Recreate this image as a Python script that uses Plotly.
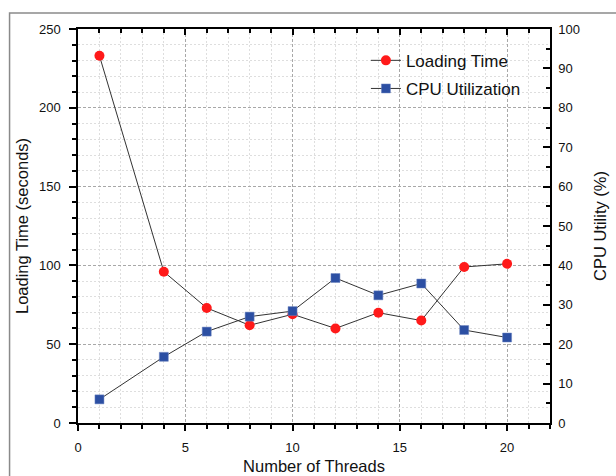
import plotly.graph_objects as go

threads = [1, 4, 6, 8, 10, 12, 14, 16, 18, 20]
loading_time = [233, 96, 73, 62, 69, 60, 70, 65, 99, 101]
cpu_util = [6.0, 16.8, 23.2, 27.0, 28.4, 36.8, 32.4, 35.4, 23.6, 21.7]

FONT = "Liberation Sans, Arial, sans-serif"

fig = go.Figure()
fig.add_trace(go.Scatter(
    x=threads, y=loading_time, name="Loading Time", mode="lines+markers",
    line=dict(color="#333333", width=1),
    marker=dict(symbol="circle", size=10, color="#ff1a1a"),
    legendgroup="a", xaxis="x", yaxis="y"))
fig.add_trace(go.Scatter(
    x=threads, y=cpu_util, name="CPU Utilization", mode="lines+markers",
    line=dict(color="#333333", width=1),
    marker=dict(symbol="square", size=9, color="#2c4fa3",
                line=dict(color="#6f86c0", width=0.5)),
    legendgroup="b", xaxis="x", yaxis="y2"))
# helper trace to draw the top axis
fig.add_trace(go.Scatter(x=[None], y=[None], xaxis="x2", yaxis="y",
                         showlegend=False, hoverinfo="skip"))

tickfont = dict(family=FONT, size=13, color="#111")
titlefont = dict(family=FONT, size=16.5, color="#111")
MAJ_GRID = dict(showgrid=True, gridcolor="#a8a8a8", griddash="3px,2px", gridwidth=1)
MIN_GRID = dict(showgrid=True, gridcolor="#dedede", griddash="2px,2px", gridwidth=1)

fig.update_layout(
    width=616, height=476,
    margin=dict(l=77.5, r=66, t=29, b=52.5),
    paper_bgcolor="white", plot_bgcolor="white",
    showlegend=True,
    legend=dict(x=0.61, y=0.965, xanchor="left", yanchor="top",
                bgcolor="rgba(0,0,0,0)", font=dict(family=FONT, size=17, color="#111"),
                traceorder="grouped", tracegroupgap=3),
    xaxis=dict(range=[0, 22], dtick=5, tick0=0, showline=True, linecolor="black",
               linewidth=1.5, ticks="outside", ticklen=6, tickwidth=1.5, tickcolor="black",
               tickfont=tickfont, zeroline=False, ticklabelstandoff=6, automargin=False,
               **MAJ_GRID,
               minor=dict(dtick=1, ticks="outside", ticklen=4, tickcolor="black", **MIN_GRID),
               title=dict(text="Number of Threads", font=titlefont, standoff=6)),
    xaxis2=dict(range=[0, 22], dtick=5, tick0=0, overlaying="x", side="top",
                showline=True, linecolor="black", linewidth=1.5, automargin=False,
                ticks="inside", ticklen=6, tickwidth=1.5, tickcolor="black",
                showticklabels=False, showgrid=False, zeroline=False,
                minor=dict(dtick=1, ticks="inside", ticklen=4, tickcolor="black", showgrid=False)),
    yaxis=dict(range=[0, 250], dtick=50, tick0=0, showline=True, linecolor="black",
               linewidth=1.5, ticks="outside", ticklen=7, tickwidth=1.5, tickcolor="black",
               tickfont=tickfont, zeroline=False, ticklabelstandoff=6, automargin=False,
               **MAJ_GRID,
               minor=dict(dtick=10, ticks="outside", ticklen=4, tickcolor="black", **MIN_GRID),
               title=dict(text="Loading Time (seconds)", font=titlefont, standoff=6)),
    yaxis2=dict(range=[0, 100], dtick=10, tick0=0, overlaying="y", side="right",
                showline=True, linecolor="black", linewidth=1.5, automargin=False,
                ticks="inside", ticklen=7, tickwidth=1.5, tickcolor="black",
                tickfont=tickfont, showgrid=False, zeroline=False, ticklabelstandoff=4,
                minor=dict(dtick=5, ticks="inside", ticklen=4, tickcolor="black", showgrid=False),
                title=dict(text="CPU Utility (%)", font=titlefont, standoff=15)),
    shapes=[dict(type="rect", xref="paper", yref="paper",
                 x0=-0.145, x1=2.0, y0=-1.0, y1=1.0406,
                 line=dict(color="#8a8a8a", width=1.5), layer="below")],
)

fig.write_html("out.html")
